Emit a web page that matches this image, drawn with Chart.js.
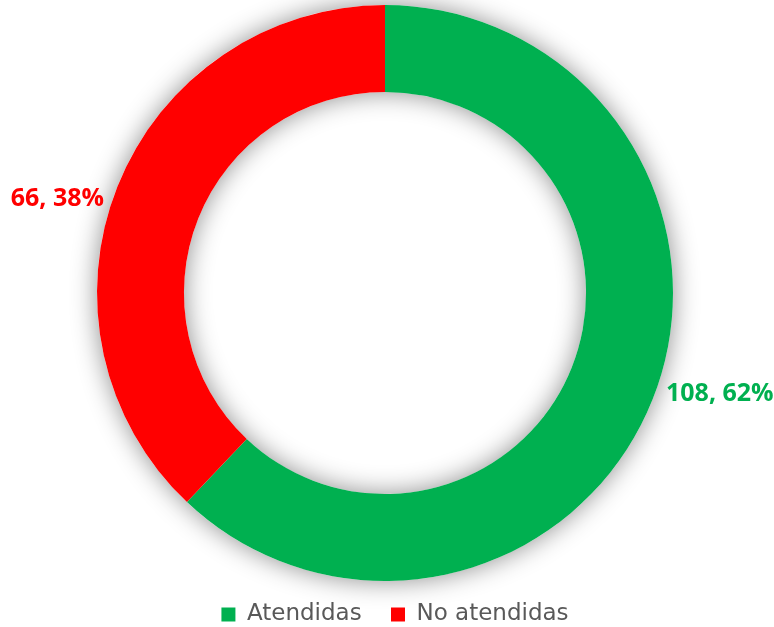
<!DOCTYPE html>
<html>
<head>
<meta charset="utf-8">
<script src="https://cdn.jsdelivr.net/npm/chart.js@4.4.1/dist/chart.umd.min.js"></script>
<style>
html,body{margin:0;padding:0;background:#fff;}
#wrap{position:relative;width:774px;height:627px;}
</style>
</head>
<body>
<div id="wrap"><canvas id="c" width="774" height="627"></canvas></div>
<script>
const categories = ["Atendidas", "No atendidas"];
const values = [108, 66];
const percents = ["62%", "38%"];
const colors = ["#00B050", "#FF0000"];

const LEGEND_FONT = "'DejaVu Sans', sans-serif";
const LABEL_FONT = "'Open Sans', sans-serif";

const shadowPlugin = {
  id: 'ringShadow',
  afterLayout(chart) {
    if (chart.legend) {
      chart.legend.left += 10;
      chart.legend.right += 10;
    }
  },
  beforeDatasetsDraw(chart) {
    const meta = chart.getDatasetMeta(0);
    if (!meta.data.length) return;
    const a = meta.data[0];
    const ctx = chart.ctx;
    ctx.save();
    ctx.shadowColor = 'rgba(0,0,0,0.45)';
    ctx.shadowBlur = 26;
    ctx.shadowOffsetX = 0;
    ctx.shadowOffsetY = 0;
    ctx.fillStyle = '#ffffff';
    ctx.beginPath();
    ctx.arc(a.x, a.y, a.outerRadius, 0, Math.PI * 2);
    ctx.arc(a.x, a.y, a.innerRadius, Math.PI * 2, 0, true);
    ctx.closePath();
    ctx.fill('evenodd');
    ctx.restore();
  }
};

const labelPlugin = {
  id: 'outLabels',
  afterDatasetsDraw(chart) {
    const meta = chart.getDatasetMeta(0);
    const ctx = chart.ctx;
    ctx.save();
    ctx.font = "bold 25px " + LABEL_FONT;
    ctx.textBaseline = 'middle';
    meta.data.forEach((a, i) => {
      const mid = (a.startAngle + a.endAngle) / 2;
      const c = Math.cos(mid), s = Math.sin(mid);
      const y = a.y + s * a.outerRadius * 0.915 + 3;
      const right = c >= 0;
      const x = a.x + (right ? 1 : -1) * (a.outerRadius - 7);
      ctx.textAlign = right ? 'left' : 'right';
      ctx.fillStyle = colors[i];
      ctx.fillText(values[i] + ", " + percents[i], x, y);
    });
    ctx.restore();
  }
};

new Chart(document.getElementById('c'), {
  type: 'doughnut',
  data: {
    labels: categories,
    datasets: [{
      data: values,
      backgroundColor: colors,
      borderWidth: 0,
      hoverOffset: 0
    }]
  },
  options: {
    responsive: false,
    animation: false,
    cutout: '69.8%',
    layout: { padding: { top: 5, bottom: -9, left: 0, right: 4 } },
    plugins: {
      tooltip: { enabled: false },
      legend: {
        display: true,
        position: 'bottom',
        labels: {
          boxWidth: 14,
          boxHeight: 14,
          padding: 22,
          color: '#595959',
          font: { family: LEGEND_FONT, size: 23 },
          generateLabels(chart) {
            const items = Chart.overrides.doughnut.plugins.legend.labels.generateLabels(chart);
            items.forEach((it, i) => {
              it.lineWidth = 0;
              if (i < items.length - 1) it.text = it.text + "\u00A0";
            });
            return items;
          }
        }
      }
    }
  },
  plugins: [shadowPlugin, labelPlugin]
});
</script>
</body>
</html>
